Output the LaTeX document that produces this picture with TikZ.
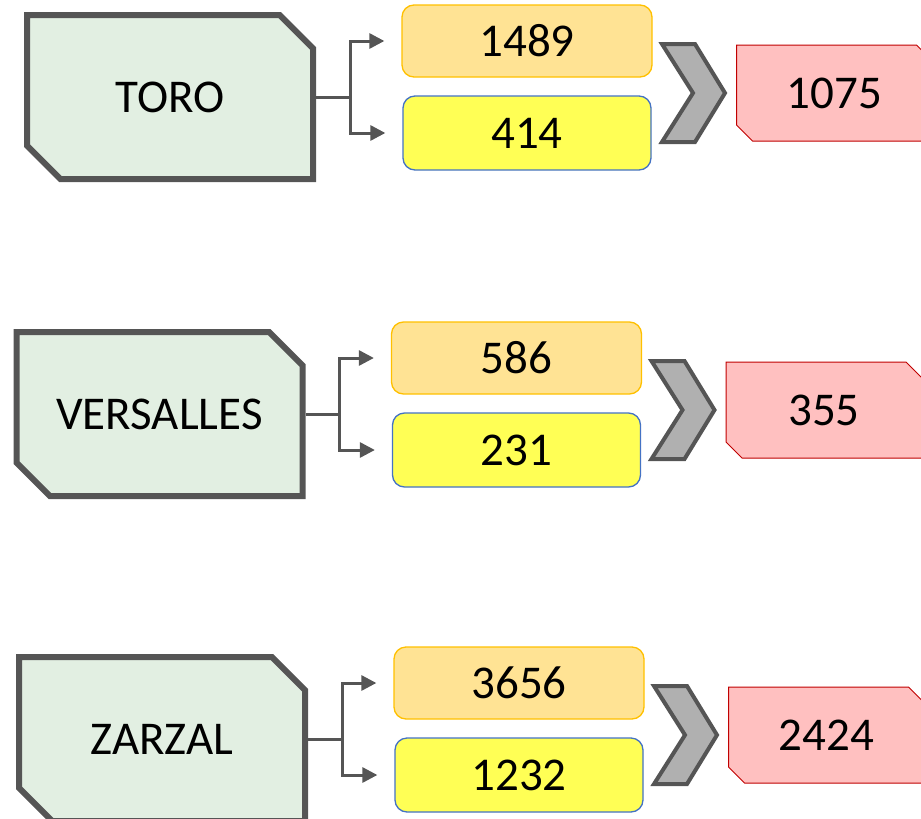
\documentclass[tikz,border=0pt]{standalone}
\usepackage{fontspec}
\setmainfont{Carlito}
\usetikzlibrary{shapes.misc,arrows.meta}
\definecolor{townfill}{HTML}{E2EFE2}
\definecolor{edgegray}{HTML}{555555}
\definecolor{upfill}{HTML}{FFE394}
\definecolor{upedge}{HTML}{FFC000}
\definecolor{downfill}{HTML}{FFFF55}
\definecolor{downedge}{HTML}{4472C4}
\definecolor{resfill}{HTML}{FFC0C0}
\definecolor{resedge}{HTML}{C00000}
\definecolor{chevfill}{HTML}{B0B0B0}
\tikzset{
  town/.style={chamfered rectangle, chamfered rectangle corners={north east,south west},
    chamfered rectangle xsep=18pt, chamfered rectangle ysep=18pt, draw=edgegray,
    line width=6pt, fill=townfill, minimum width=286pt, minimum height=164pt,
    inner sep=0pt, font=\fontsize{47}{50}\selectfont},
  upbox/.style={rectangle, rounded corners=12pt, draw=upedge, line width=1.3pt,
    fill=upfill, minimum width=250pt, minimum height=72pt, inner sep=0pt,
    font=\fontsize{47}{50}\selectfont},
  downbox/.style={upbox, draw=downedge, fill=downfill, minimum width=248pt, minimum height=74pt},
  result/.style={chamfered rectangle, chamfered rectangle corners={north east,south west},
    chamfered rectangle xsep=8pt, chamfered rectangle ysep=8pt, draw=resedge,
    line width=1pt, fill=resfill, minimum width=196pt, minimum height=96pt,
    inner sep=0pt, font=\fontsize{47}{50}\selectfont},
  chev/.style={draw=edgegray, line width=4pt, fill=chevfill, line join=miter},
  link/.style={draw=edgegray, line width=3pt, shorten >=17pt,
    -{Triangle[length=15pt,width=15pt]}}
}
\begin{document}
\begin{tikzpicture}[x=1pt,y=-1pt]
        \useasboundingbox (0,0) rectangle (921,819);
        %tres grupos
        \foreach \dx/\dy/\place/\up/\down/\res/\k in {0/0/TORO/1489/414/1075/a,
            -10.5/317/VERSALLES/586/231/355/b, -8/642/ZARZAL/3656/1232/2424/c}{
        \begin{scope}[shift={(\dx,\dy)}]
        %cajas
        \node[town] (town\k) at (170,97) {\place};
        \node[upbox] (up\k) at (527,41) {\up};
        \node[downbox] (down\k) at (527,133) {\down};
        \node[result,anchor=west] (res\k) at (736,93) {\res};
        %flechas
        \draw[link] (town\k.east) -- ++(34,0) coordinate (fork\k) |- (up\k.west);
        \draw[link] (fork\k) |- (down\k.west);
        %chevron
        \draw[chev] (662,44) -- (695,44) -- (725,93) -- (695,142) -- (662,142) -- (693,93) -- cycle;
        \end{scope}
        }
\end{tikzpicture}
\end{document}
